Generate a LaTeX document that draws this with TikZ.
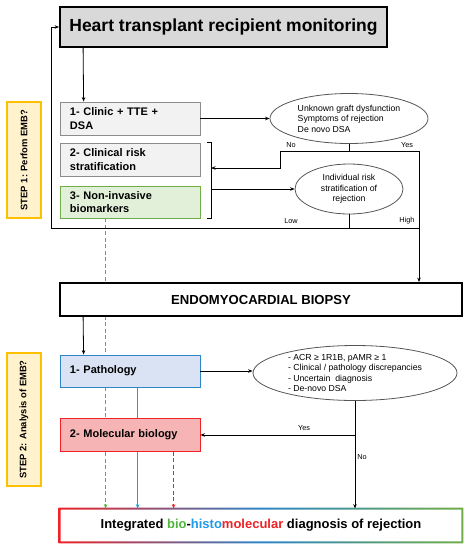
\documentclass[tikz,border=0pt]{standalone}
\usepackage{fontspec}
\setmainfont{Liberation Sans}
\usetikzlibrary{shapes.geometric,arrows.meta,backgrounds}
\definecolor{titlegray}{HTML}{D9D9D9}
\definecolor{boxgray}{HTML}{F2F2F2}
\definecolor{edgegray}{HTML}{8C8C8C}
\definecolor{ovalgray}{HTML}{555555}
\definecolor{biofill}{HTML}{E2F0D9}
\definecolor{bioedge}{HTML}{70AD47}
\definecolor{biogreen}{HTML}{4FB83A}
\definecolor{histofill}{HTML}{DAE3F3}
\definecolor{histoedge}{HTML}{2E86C8}
\definecolor{histoblue}{HTML}{1E9BE6}
\definecolor{molfill}{HTML}{F6B4B4}
\definecolor{molred}{HTML}{EE2328}
\definecolor{stepfill}{HTML}{FFF2CC}
\definecolor{stepedge}{HTML}{FFC000}
\begin{document}
\begin{tikzpicture}[x=1pt, y=-1pt, line width=0.8pt,
	>={Stealth[length=4.5pt,width=3.5pt]},
	bigbox/.style={draw, line width=1.8pt, inner sep=0pt},
	stagebox/.style={draw=edgegray, fill=boxgray, text width=120pt, inner xsep=10pt, inner ysep=0pt,
		minimum height=33pt, align=left, font=\fontsize{11}{13.5}\selectfont\bfseries},
	oval/.style={draw=ovalgray, ellipse, inner sep=0pt, font=\fontsize{8.7}{10.5}\selectfont},
	stepbox/.style={draw=stepedge, fill=stepfill, line width=1.2pt, rotate=90, minimum height=34pt,
		inner sep=0pt, font=\fontsize{9.4}{11}\selectfont\bfseries},
	tag/.style={font=\fontsize{7.3}{8}\selectfont},
	feedline/.style={draw=#1, line width=1.6pt}]
	\useasboundingbox (0,0) rectangle (468,550);
	% step 1
	\node[bigbox, fill=titlegray, minimum width=327pt, minimum height=40pt,
		font=\fontsize{17.5}{20}\selectfont\bfseries] (title) at (223.5,27) {Heart transplant recipient monitoring};
	\node[stagebox] (clinic) at (130,118.5) {1- Clinic + TTE +\\DSA};
	\node[stagebox] (risk) at (130,159.5) {2- Clinical risk\\stratification};
	\node[stagebox, fill=biofill, draw=bioedge, minimum height=32pt] (markers) at (130,202) {3- Non-invasive\\biomarkers};
	\node[oval, minimum width=158pt, minimum height=50pt, align=left] (signs) at (349,118.5)
		{Unknown graft dysfunction\\Symptoms of rejection\\De novo DSA};
	\node[oval, minimum width=108pt, minimum height=50pt, align=center] (indiv) at (349,189)
		{Individual risk\\stratification of\\rejection};
	\node[stepbox, minimum width=116pt] (stepone) at (24,160) {STEP 1: Perfom EMB?};
	% step 2
	\node[bigbox, fill=white, minimum width=402pt, minimum height=33pt,
		font=\fontsize{13.1}{15}\selectfont\bfseries] (biopsy) at (261,299.5) {ENDOMYOCARDIAL BIOPSY};
	\node[stagebox, fill=histofill, draw=histoedge, minimum height=32pt] (patho) at (130,371) {1- Pathology};
	\node[stagebox, fill=molfill, draw=molred] (molbio) at (130,435) {2- Molecular biology};
	\node[oval, minimum width=204pt, minimum height=55pt, align=left] (criteria) at (355,373)
		{- ACR ≥ 1R1B, pAMR ≥ 1\\- Clinical / pathology discrepancies\\- Uncertain\ \ diagnosis\\- De-novo DSA};
	\node[stepbox, minimum width=133pt] (steptwo) at (24,419.5) {STEP 2: Analysis of EMB?};
	\node[fill=white, minimum width=402pt, minimum height=33pt, inner sep=0pt,
		font=\fontsize{13}{15}\selectfont\bfseries] (diag) at (261,525.5)
		{Integrated \textcolor{biogreen}{bio}-\textcolor{histoblue}{histo}\textcolor{molred}{molecular} diagnosis of rejection};
	% junctions
	\coordinate (split) at (349,151);
	\coordinate (nobend) at (280,151);
	\coordinate (yesbend) at (419,151);
	\coordinate (brin) at (211,168);
	\coordinate (brout) at (211,189);
	\coordinate (lowjoin) at (349,228);
	\coordinate (loopback) at (51,228);
	% feeds into the diagnosis
	\begin{scope}[on background layer]
		\draw[biogreen, line width=1.6pt, dash pattern=on 4pt off 2.5pt, ->] ([xshift=46pt]markers.south west) -- ([xshift=46pt]diag.north west);
		\draw[histoblue, line width=1.6pt, ->] ([xshift=78pt]patho.south west) -- ([xshift=78pt]diag.north west);
	\end{scope}
	\draw[molred, line width=1.6pt, dash pattern=on 4pt off 2.5pt, ->] ([xshift=114pt]molbio.south west) -- ([xshift=114pt]diag.north west);
	% connectors
	\draw[->] ([xshift=24pt]title.south west) -- ([xshift=24pt]clinic.north west);
	\draw[->] (clinic.east) -- (signs.west);
	\draw (signs.south) -- (split);
	\draw[->] (split) -- (nobend) |- (brin);
	\draw[->] (split) -- (yesbend) -- (yesbend |- biopsy.north);
	\draw ([xshift=7pt]risk.north east) -| ([xshift=11pt]markers.south east) -- ([xshift=7pt]markers.south east);
	\draw[->] (brout) -- (indiv.west);
	\draw (indiv.south) -- (lowjoin);
	\draw[->] (lowjoin -| yesbend) -- (loopback) |- (title.west);
	\node[tag] (nolabel) at (291,145) {No};
	\node[tag] (yeslabel) at (407,145) {Yes};
	\node[tag] (lowlabel) at (291,221) {Low};
	\node[tag] (highlabel) at (407,221) {High};
	\draw[->] ([xshift=24pt]biopsy.south west) -- ([xshift=24pt]patho.north west);
	\draw[->] (patho.east) -- (patho.east -| criteria.west);
	\draw[->] (criteria.south) -- (criteria.south |- diag.north);
	\draw[->] (criteria.south |- molbio.east) -- (molbio.east);
	\node[tag] (yesmol) at (304,428) {Yes};
	\node[tag] (nomol) at (362,457) {No};
	% gradient frame
	\shade[left color=molred, right color=bioedge, middle color=histoedge, even odd rule]
		([shift={(-1pt,-1pt)}]diag.south west) rectangle ([shift={(1pt,1pt)}]diag.north east)
		([shift={(1pt,1pt)}]diag.south west) rectangle ([shift={(-1pt,-1pt)}]diag.north east);
\end{tikzpicture}
\end{document}
